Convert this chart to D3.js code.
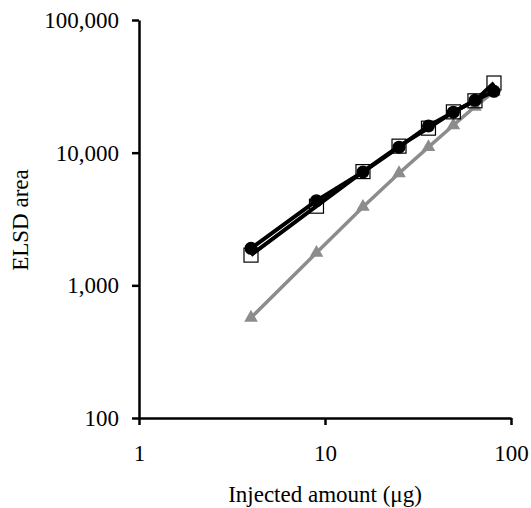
<!DOCTYPE html>
<html>
<head>
<meta charset="utf-8">
<script src="https://cdn.jsdelivr.net/npm/d3@7"></script>
<style>
  body { margin: 0; background: #fff; }
  svg text { font-family: "Liberation Serif", "Times New Roman", serif; fill: #000; }
</style>
</head>
<body>
<svg width="531" height="508"></svg>
<script>
// injected amounts (µg) and ELSD areas
const amounts = [4, 9, 16, 25, 36, 49, 64, 81];
const squares = [1690, 3950, 7200, 11200, 15300, 20300, 24600, 33500];
const circles = [1900, 4350, 7150, 11000, 15900, 20200, 24800, 29000];
const triangles = [570, 1760, 3900, 7000, 11000, 16100, 22200, 28800];
const xTicks = [1, 10, 100];
const yTicks = [100, 1000, 10000, 100000];

const svg = d3.select("svg");
const margin = {left: 139, right: 20, top: 20, bottom: 90};
const width = +svg.attr("width"), height = +svg.attr("height");
const fs = 23;

const x = d3.scaleLog().domain([1, 100]).range([margin.left, width - margin.right]);
const y = d3.scaleLog().domain([100, 100000]).range([height - margin.bottom, margin.top]);

const fmt = d3.format(",");

var gx = svg.append("g")
    .attr("transform", "translate(0," + (height - margin.bottom) + ")")
    .call(d3.axisBottom(x).tickValues(xTicks).tickFormat(fmt).tickSize(7).tickSizeOuter(0).tickPadding(20));

var gy = svg.append("g")
    .attr("transform", "translate(" + margin.left + ",0)")
    .call(d3.axisLeft(y).tickValues(yTicks).tickFormat(fmt).tickSize(7).tickSizeOuter(0).tickPadding(13));

[gx, gy].forEach(g => {
  g.attr("font-size", fs).attr("font-family", "Liberation Serif");
  g.select(".domain").attr("stroke", "#000").attr("stroke-width", 2.5);
  g.selectAll(".tick line").attr("stroke", "#000").attr("stroke-width", 2.5);
});

svg.append("text")
    .attr("x", x(10)).attr("y", 502)
    .attr("text-anchor", "middle").attr("font-size", fs)
    .text("Injected amount (μg)");

svg.append("text")
    .attr("transform", "translate(28,220) rotate(-90)")
    .attr("text-anchor", "middle").attr("font-size", fs)
    .text("ELSD area");

const line = d3.line().x(d => x(d[0])).y(d => y(d[1]));

const series = [
  {vals: triangles, color: "#8c8c8c", width: 3.5, shape: "triangle"},
  {vals: circles, color: "#000", width: 4, shape: "circle"},
  {vals: squares, color: "#000", width: 4, shape: "square"}
];

series.forEach(s => {
  const pts = amounts.map((a, i) => [a, s.vals[i]]);
  svg.append("path")
      .datum(pts)
      .attr("fill", "none")
      .attr("stroke", s.color)
      .attr("stroke-width", s.width)
      .attr("d", line);

  const g = svg.append("g");
  if (s.shape === "circle") {
    g.selectAll("circle").data(pts).enter().append("circle")
        .attr("cx", d => x(d[0])).attr("cy", d => y(d[1]))
        .attr("r", 6.5).attr("fill", "#000");
  } else if (s.shape === "square") {
    g.selectAll("rect").data(pts).enter().append("rect")
        .attr("x", d => x(d[0]) - 7).attr("y", d => y(d[1]) - 7)
        .attr("width", 14).attr("height", 14)
        .attr("fill", "none").attr("stroke", "#000").attr("stroke-width", 1.2);
  } else {
    g.selectAll("path").data(pts).enter().append("path")
        .attr("d", d3.symbol().type(d3.symbolTriangle).size(80))
        .attr("transform", d => "translate(" + x(d[0]) + "," + y(d[1]) + ")")
        .attr("fill", s.color);
  }
});
</script>
</body>
</html>
